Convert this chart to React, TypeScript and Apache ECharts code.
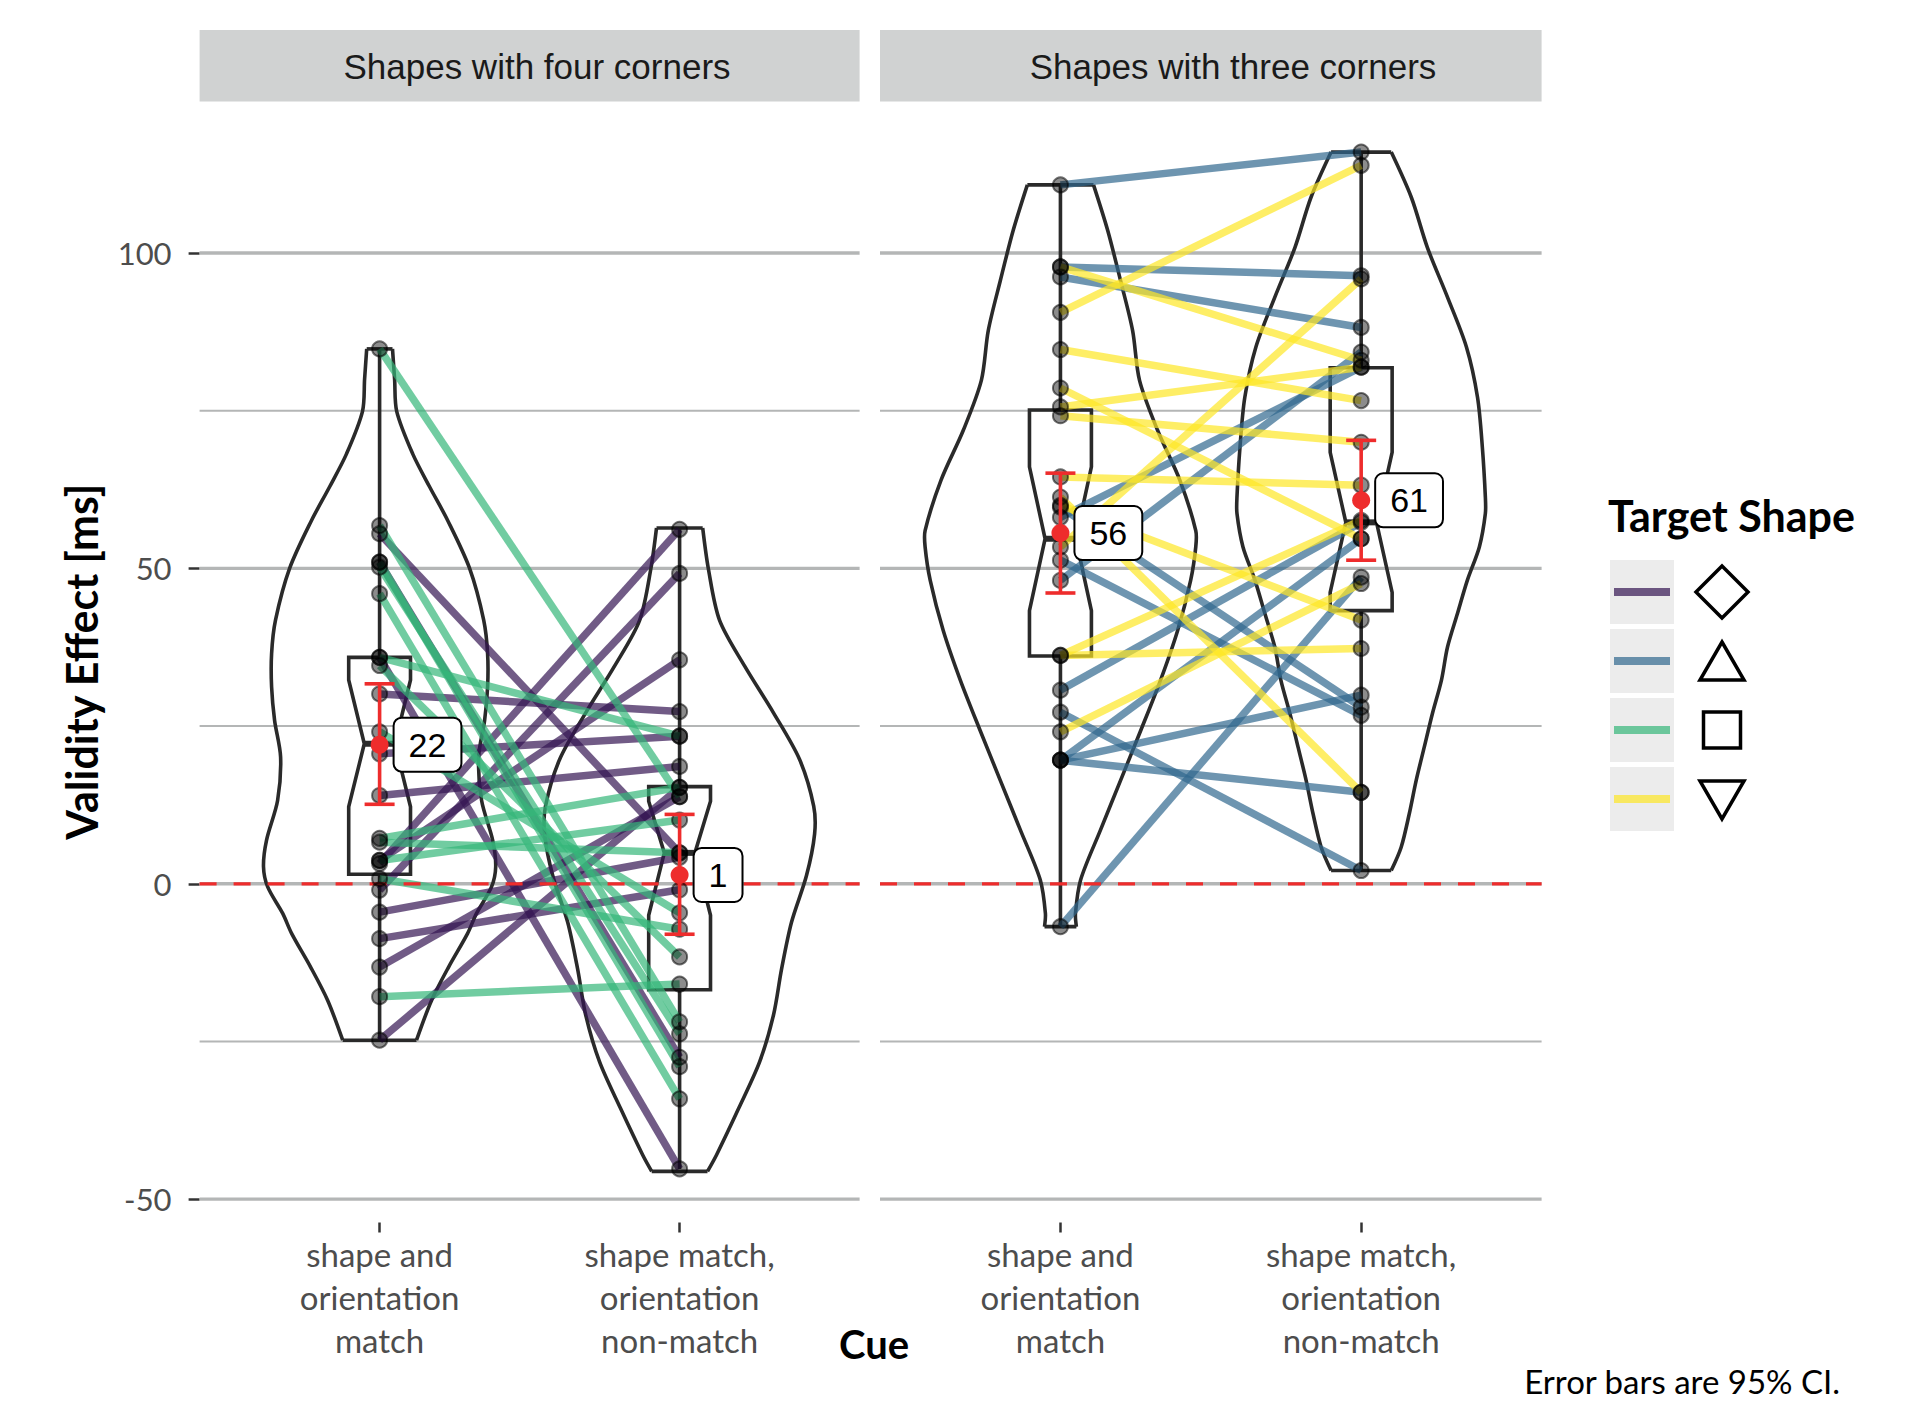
import React, { useEffect, useRef } from "react";
import * as echarts from "echarts";

// ---------- data ----------
const PANELS = ["Shapes with four corners", "Shapes with three corners"];
const CUE_LABELS = ["shape and\norientation\nmatch", "shape match,\norientation\nnon-match"];
const Y_TICKS = [-50, 0, 50, 100];
const Y_MAJOR = [-50, 0, 50, 100];
const Y_MINOR = [-25, 25, 75];
const TARGET_SHAPES = ["diamond", "triangle", "square", "inverted triangle"];
const SHAPE_COLORS = [
  "rgba(52,22,82,0.7)",
  "rgba(49,104,142,0.7)",
  "rgba(53,183,121,0.7)",
  "rgba(253,231,37,0.7)",
];

// four corners: diamond (purple) & square (green); values per participant [match, non-match]
const diamondMatch = [3.2, -1.0, 3.7, 30.1, 20.6, 14.0, -13.2, -24.8, -4.5, -8.7, 55.5, 35.9, 51.0];
const diamondNonMatch = [56.2, 49.2, 35.5, 27.3, 23.4, 18.6, 13.8, 15.3, 4.2, -0.95, 4.9, -45.2, -27.5];
const squareMatch = [84.8, 56.8, 51.0, 50.2, 46.0, 35.9, 34.6, 24.1, 7.2, 6.6, 0.8, -17.9, 3.7];
const squareNonMatch = [13.8, -21.9, -29.0, -23.8, -34.1, 23.4, -11.6, -4.6, 15.3, 4.9, -7.2, -15.9, 10.1];
// three corners: triangle (blue) & inverted triangle (yellow)
const triangleMatch = [110.8, 97.8, 96.2, -6.8, 30.7, 27.2, 19.6, 19.6, 19.6, 59.7, 51.3, 58.1, 48.1];
const triangleNonMatch = [116.0, 96.4, 88.2, 48.6, 57.3, 2.1, 29.9, 14.5, 54.7, 28.0, 26.7, 81.9, 84.3];
const invTriangleMatch = [90.6, 97.8, 84.7, 75.6, 74.2, 78.6, 64.5, 61.3, 53.4, 36.2, 36.2, 24.1, 60.0];
const invTriangleNonMatch = [113.9, 83.0, 76.6, 81.9, 70.0, 54.7, 63.2, 14.5, 95.9, 37.3, 57.6, 47.6, 41.8];

// violin outlines: [value, half-width in category units]
const violinFourMatch = [[84.8, 0.043], [80, 0.05], [74.9, 0.057], [68.2, 0.11], [62.9, 0.167], [57.6, 0.227], [50, 0.3], [41.8, 0.347], [36.5, 0.36], [31.2, 0.36], [25.9, 0.35], [20.1, 0.33], [13.2, 0.34], [6.9, 0.377], [2.7, 0.387], [-0.5, 0.373], [-4.7, 0.323], [-7.9, 0.293], [-13.2, 0.23], [-18.5, 0.173], [-24.8, 0.123]];
const violinFourNonMatch = [[56.4, 0.077], [49.9, 0.096], [41.8, 0.133], [34.5, 0.217], [27.1, 0.313], [19.7, 0.4], [12.3, 0.447], [7.9, 0.45], [1.3, 0.423], [-6.1, 0.373], [-13.5, 0.34], [-20.8, 0.313], [-28.2, 0.267], [-35.6, 0.197], [-43.0, 0.123], [-45.6, 0.093]];
const violinThreeMatch = [[110.8, 0.11], [103.6, 0.157], [95.6, 0.2], [87.7, 0.24], [79.8, 0.263], [71.9, 0.323], [64.0, 0.397], [56.0, 0.45], [53.4, 0.45], [48.1, 0.433], [40.2, 0.39], [32.3, 0.333], [24.3, 0.267], [16.4, 0.2], [8.5, 0.133], [0.6, 0.067], [-4.7, 0.05], [-6.8, 0.053]];
const violinThreeNonMatch = [[116.0, 0.1], [108.8, 0.167], [100.9, 0.22], [93.0, 0.287], [85.1, 0.35], [77.1, 0.387], [69.2, 0.403], [61.3, 0.413], [58.7, 0.413], [53.4, 0.393], [48.1, 0.353], [42.8, 0.32], [37.5, 0.287], [32.3, 0.267], [27.0, 0.237], [21.7, 0.21], [16.4, 0.183], [11.1, 0.16], [5.8, 0.133], [2.1, 0.1]];

// notched boxplots: [min, q1, notchLow, median, notchHigh, q3, max]
const boxFour = [[-24.8, 1.5, 12.2, 22.2, 32.3, 35.9, 84.8], [-45.2, -16.8, -5.0, 4.9, 13.1, 15.4, 56.2]];
const boxThree = [[-6.8, 36.1, 43.3, 54.7, 66.1, 75.1, 110.8], [2.1, 43.3, 46.2, 57.3, 68.4, 81.8, 116.0]];

// means with 95% CI
const meanFour = [22.06, 1.4];
const ciLowFour = [12.6, -8.0];
const ciHighFour = [31.7, 11.0];
const meanThree = [55.6, 60.8];
const ciLowThree = [46.1, 51.3];
const ciHighThree = [65.1, 70.3];

// ---------- layout ----------
const PANEL_LEFT = [199.6, 880];
const PANEL_WIDTH = [660, 661.6];
const STRIP_TEXT_X = [537, 1233];
const PANEL_TOP = 101;
const PANEL_HEIGHT = 1121.5;
const Y_MIN = -53.7;
const Y_MAX = 124.1;
const X_MIN = 0.4;
const X_MAX = 2.6;
const FONT = "Lato, 'Noto Sans', sans-serif";
const LABEL_FONT = "'Liberation Sans', Arial, sans-serif";
const DARK = "#2a2a2a";
const RED = "#ee2c2c";

const PANEL_DATA = [
  {
    shapes: [0, 2],
    match: [diamondMatch, squareMatch],
    non: [diamondNonMatch, squareNonMatch],
    violins: [violinFourMatch, violinFourNonMatch],
    boxes: boxFour,
    mean: meanFour,
    lo: ciLowFour,
    hi: ciHighFour,
  },
  {
    shapes: [1, 3],
    match: [triangleMatch, invTriangleMatch],
    non: [triangleNonMatch, invTriangleNonMatch],
    violins: [violinThreeMatch, violinThreeNonMatch],
    boxes: boxThree,
    mean: meanThree,
    lo: ciLowThree,
    hi: ciHighThree,
  },
];

function buildOption() {
  const grid: any[] = [];
  const xAxis: any[] = [];
  const yAxis: any[] = [];
  const series: any[] = [];

  PANEL_DATA.forEach((pd, p) => {
    grid.push({ left: PANEL_LEFT[p], top: PANEL_TOP, width: PANEL_WIDTH[p], height: PANEL_HEIGHT, containLabel: false });
    xAxis.push({
      type: "value",
      gridIndex: p,
      min: X_MIN,
      max: X_MAX,
      position: "bottom",
      axisLine: { show: false, onZero: false },
      splitLine: { show: false },
      axisTick: { show: true, customValues: [1, 2], length: 10, lineStyle: { color: "#333", width: 2.5 } },
      axisLabel: {
        show: true,
        customValues: [1, 2],
        formatter: (v: number) => CUE_LABELS[Math.round(v) - 1] || "",
        fontFamily: FONT,
        fontSize: 33,
        lineHeight: 43,
        color: "#4d4d4d",
        margin: 10,
        align: "center",
      },
    });
    yAxis.push({
      type: "value",
      gridIndex: p,
      min: Y_MIN,
      max: Y_MAX,
      position: "left",
      axisLine: { show: false, onZero: false },
      splitLine: { show: false },
      axisTick: p === 0 ? { show: true, customValues: Y_TICKS, length: 11, lineStyle: { color: "#333", width: 2.5 } } : { show: false },
      axisLabel: p === 0
        ? { show: true, customValues: Y_TICKS, fontFamily: FONT, fontSize: 31, color: "#4d4d4d", margin: 28 }
        : { show: false },
      name: p === 0 ? "Validity Effect [ms]" : "",
      nameLocation: "middle",
      nameGap: 97,
      nameTextStyle: { fontFamily: FONT, fontWeight: "bold", fontSize: 43, color: "#000" },
    });

    const axes = { xAxisIndex: p, yAxisIndex: p };

    // grid lines
    series.push({
      type: "custom",
      ...axes,
      z: 1,
      silent: true,
      clip: false,
      data: Y_MAJOR.map((v) => [1.5, v, 1]).concat(Y_MINOR.map((v) => [1.5, v, 0])),
      renderItem: (params: any, api: any) => {
        const y = api.value(1);
        const a = api.coord([X_MIN, y]);
        const b = api.coord([X_MAX, y]);
        return {
          type: "line",
          shape: { x1: a[0], y1: a[1], x2: b[0], y2: b[1] },
          style: { stroke: "#b4b6b6", lineWidth: api.value(2) ? 3.4 : 2 },
        };
      },
    });

    // violins
    series.push({
      type: "custom",
      ...axes,
      z: 2,
      silent: true,
      clip: false,
      data: [[1, 0, 0], [2, 0, 1]],
      renderItem: (params: any, api: any) => {
        const x = api.value(0);
        const prof = pd.violins[api.value(2)];
        const right = prof.map(([v, h]) => api.coord([x + h, v]));
        const left = prof.map(([v, h]) => api.coord([x - h, v]));
        const st = { fill: "none", stroke: DARK, lineWidth: 3.6 };
        return {
          type: "group",
          children: [
            { type: "polyline", shape: { points: right, smooth: 0.3 }, style: st },
            { type: "polyline", shape: { points: left, smooth: 0.3 }, style: st },
            { type: "line", shape: { x1: left[0][0], y1: left[0][1], x2: right[0][0], y2: right[0][1] }, style: st },
            {
              type: "line",
              shape: { x1: left[left.length - 1][0], y1: left[left.length - 1][1], x2: right[right.length - 1][0], y2: right[right.length - 1][1] },
              style: st,
            },
          ],
        };
      },
    });

    // notched boxplots
    series.push({
      type: "custom",
      ...axes,
      z: 3,
      silent: true,
      clip: false,
      data: [[1, 0, 0], [2, 0, 1]],
      renderItem: (params: any, api: any) => {
        const x = api.value(0);
        const [mn, q1, nlo, med, nhi, q3, mx] = pd.boxes[api.value(2)];
        const w = 0.103;
        const nw = 0.051;
        const pts = [
          [x - w, q3], [x + w, q3], [x + w, nhi], [x + nw, med], [x + w, nlo], [x + w, q1],
          [x - w, q1], [x - w, nlo], [x - nw, med], [x - w, nhi],
        ].map((d) => api.coord(d));
        const ml = api.coord([x - nw, med]);
        const mr = api.coord([x + nw, med]);
        const top = api.coord([x, mx]);
        const t3 = api.coord([x, q3]);
        const b1 = api.coord([x, q1]);
        const bot = api.coord([x, mn]);
        const st = { fill: "none", stroke: DARK, lineWidth: 3.6 };
        return {
          type: "group",
          children: [
            { type: "polygon", shape: { points: pts }, style: st },
            { type: "line", shape: { x1: ml[0], y1: ml[1], x2: mr[0], y2: mr[1] }, style: { stroke: DARK, lineWidth: 6 } },
            { type: "line", shape: { x1: top[0], y1: top[1], x2: t3[0], y2: t3[1] }, style: st },
            { type: "line", shape: { x1: b1[0], y1: b1[1], x2: bot[0], y2: bot[1] }, style: st },
          ],
        };
      },
    });

    // participant lines
    const lineData: number[][] = [];
    pd.shapes.forEach((s, k) => {
      pd.match[k].forEach((v, i) => lineData.push([1, v, pd.non[k][i], s]));
    });
    series.push({
      type: "custom",
      ...axes,
      z: 4,
      silent: true,
      clip: false,
      data: lineData,
      renderItem: (params: any, api: any) => {
        const a = api.coord([1, api.value(1)]);
        const b = api.coord([2, api.value(2)]);
        return {
          type: "line",
          shape: { x1: a[0], y1: a[1], x2: b[0], y2: b[1] },
          style: { stroke: SHAPE_COLORS[api.value(3)], lineWidth: 7.5 },
        };
      },
    });

    // zero reference line
    series.push({
      type: "custom",
      ...axes,
      z: 5,
      silent: true,
      clip: false,
      data: [[1.5, 0]],
      renderItem: (params: any, api: any) => {
        const a = api.coord([X_MIN, api.value(1)]);
        const b = api.coord([X_MAX, api.value(1)]);
        return {
          type: "line",
          shape: { x1: a[0], y1: a[1], x2: b[0], y2: b[1] },
          style: { stroke: RED, lineWidth: 3.2, lineDash: [17, 17] },
        };
      },
    });

    // points
    const pts: number[][] = [];
    pd.shapes.forEach((s, k) => {
      pd.match[k].forEach((v) => pts.push([1, v]));
      pd.non[k].forEach((v) => pts.push([2, v]));
    });
    series.push({
      type: "scatter",
      ...axes,
      z: 6,
      silent: true,
      symbolSize: 15,
      itemStyle: { color: "rgba(0,0,0,0.45)", borderColor: "rgba(0,0,0,0.55)", borderWidth: 2, opacity: 1 },
      data: pts,
    });

    // means and CI
    series.push({
      type: "custom",
      ...axes,
      z: 7,
      silent: true,
      clip: false,
      data: pd.mean.map((m, i) => [i + 1, m, pd.lo[i], pd.hi[i]]),
      renderItem: (params: any, api: any) => {
        const x = api.value(0);
        const m = api.value(1);
        const c = api.coord([x, m]);
        const lo = api.coord([x, api.value(2)]);
        const hi = api.coord([x, api.value(3)]);
        const st = { stroke: RED, lineWidth: 3.6 };
        return {
          type: "group",
          children: [
            { type: "line", shape: { x1: lo[0], y1: lo[1], x2: hi[0], y2: hi[1] }, style: st },
            { type: "line", shape: { x1: lo[0] - 15, y1: lo[1], x2: lo[0] + 15, y2: lo[1] }, style: st },
            { type: "line", shape: { x1: hi[0] - 15, y1: hi[1], x2: hi[0] + 15, y2: hi[1] }, style: st },
            { type: "circle", shape: { cx: c[0], cy: c[1], r: 9 }, style: { fill: RED } },
            {
              type: "text",
              x: c[0] + 15,
              y: c[1],
              style: {
                text: String(Math.round(m)),
                fill: "#000",
                font: `34px ${LABEL_FONT}`,
                lineHeight: 34,
                align: "left",
                verticalAlign: "middle",
                backgroundColor: "#fff",
                borderColor: "#000",
                borderWidth: 2,
                borderRadius: 7,
                padding: [9, 14],
              },
            },
          ],
        };
      },
    });
  });

  // graphic: strips, legend, annotations
  const graphic: any[] = [];
  PANELS.forEach((t, p) => {
    graphic.push({
      type: "rect",
      shape: { x: PANEL_LEFT[p], y: 30, width: PANEL_WIDTH[p], height: 71.5 },
      style: { fill: "#d0d2d2" },
      silent: true,
    });
    graphic.push({
      type: "text",
      x: STRIP_TEXT_X[p],
      y: 66,
      style: { text: t, font: `35px ${LABEL_FONT}`, fill: "#1a1a1a", align: "center", verticalAlign: "middle" },
      silent: true,
    });
  });
  graphic.push({
    type: "text",
    x: 874,
    y: 1344,
    style: { text: "Cue", font: `bold 40px ${FONT}`, fill: "#000", align: "center", verticalAlign: "middle" },
  });
  graphic.push({
    type: "text",
    x: 1840,
    y: 1381,
    style: { text: "Error bars are 95% CI.", font: `33px ${FONT}`, fill: "#000", align: "right", verticalAlign: "middle" },
  });
  graphic.push({
    type: "text",
    x: 1608,
    y: 515,
    style: { text: "Target Shape", font: `bold 43px ${FONT}`, fill: "#000", align: "left", verticalAlign: "middle" },
  });
  const shapePts = [
    [[0, -26], [26, 0], [0, 26], [-26, 0]],
    [[0, -19], [22, 19], [-22, 19]],
    [[-18.5, -18], [18.5, -18], [18.5, 18], [-18.5, 18]],
    [[-22, -19], [22, -19], [0, 19]],
  ];
  TARGET_SHAPES.forEach((name, i) => {
    const y0 = 560 + 69 * i;
    const cy = y0 + 32;
    graphic.push({ type: "rect", shape: { x: 1610, y: y0, width: 64, height: 64 }, style: { fill: "#ececec" } });
    graphic.push({ type: "line", shape: { x1: 1614, y1: cy, x2: 1670, y2: cy }, style: { stroke: SHAPE_COLORS[i], lineWidth: 8 } });
    graphic.push({
      type: "polygon",
      shape: { points: shapePts[i].map(([dx, dy]) => [1722 + dx, cy + (i === 3 ? 1 : 0) + dy]) },
      style: { fill: "none", stroke: "#000", lineWidth: 3.5 },
    });
  });

  return {
    animation: false,
    backgroundColor: "#fff",
    grid,
    xAxis,
    yAxis,
    series,
    graphic,
  };
}

export default function App() {
  const ref = useRef<HTMLDivElement>(null);
  useEffect(() => {
    if (!ref.current) return;
    const chart = echarts.init(ref.current, null, { renderer: "svg" });
    chart.setOption(buildOption() as any);
    return () => chart.dispose();
  }, []);
  return <div ref={ref} style={{ position: "fixed", left: 0, top: 0, width: 1920, height: 1403, background: "#fff" }} />;
}
